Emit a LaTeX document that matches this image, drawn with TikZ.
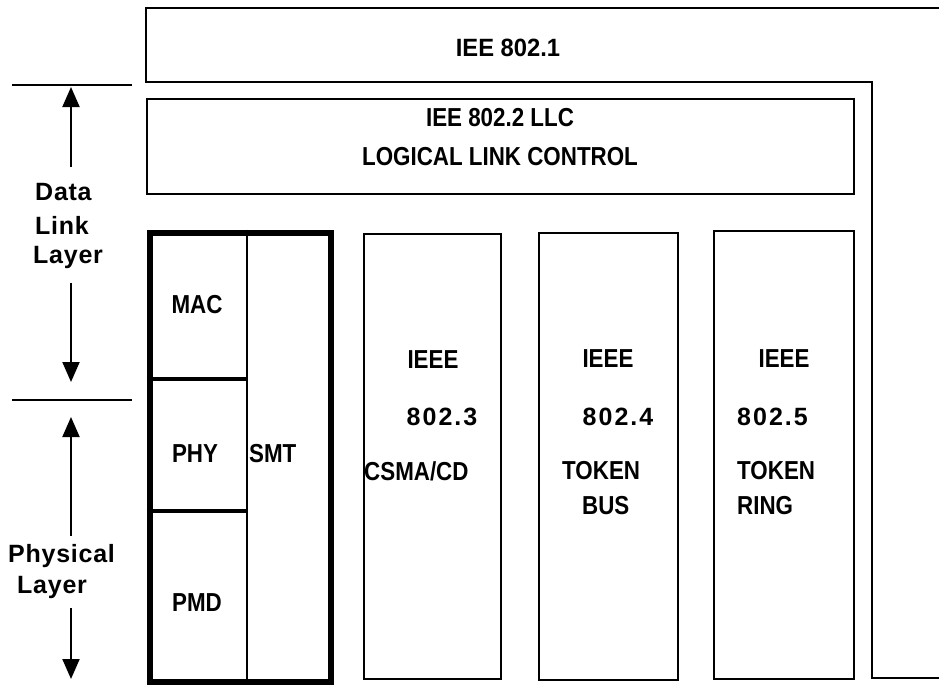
\documentclass[tikz,border=0pt]{standalone}
\usepackage{fontspec}
\setmainfont{Liberation Sans}
\newfontfamily\condfont{Liberation Sans Bold}[FakeStretch=0.86]
\newfontfamily\widefont{Liberation Sans Bold}[FakeStretch=0.95]
\newfontfamily\numfont{Liberation Sans Bold}[LetterSpace=8]
\newfontfamily\sidefont{Liberation Sans Bold}[LetterSpace=3]
\usetikzlibrary{arrows.meta}
\begin{document}
\begin{tikzpicture}[x=1pt,y=-1pt,
  thin box/.style={draw, line width=2pt, inner sep=0pt, anchor=north west},
  lbl/.style={font=\condfont\fontsize{26}{28}\selectfont, inner sep=0pt},
  num/.style={font=\numfont\fontsize{25}{27}\selectfont, inner sep=0pt},
  side/.style={font=\sidefont\fontsize{25}{27}\selectfont, inner sep=0pt, anchor=west},
  arr/.style={line width=2pt, -{Triangle[width=17pt,length=20pt]}},
  rule/.style={line width=2.5pt},
]
\useasboundingbox (0,0) rectangle (939,694);

% IEE 802.1 frame
\coordinate (f1) at (939,8);
\coordinate (f2) at (146,8);
\coordinate (f3) at (146,82);
\coordinate (f4) at (872,82);
\coordinate (f5) at (872,678);
\coordinate (f6) at (939,678);
\draw[line width=2pt, line join=miter] (f1) -- (f2) -- (f3) -- (f4) -- (f5) -- (f6);
\node[lbl, font=\widefont\fontsize{25}{27}\selectfont] (t8021) at (508,48) {IEE 802.1};

% LLC
\node[thin box, minimum width=707pt, minimum height=95pt] (llc) at (146,98) {};
\node[lbl] (llc1) at (500,118) {IEE 802.2 LLC};
\node[lbl] (llc2) at (500,157) {LOGICAL LINK CONTROL};

% FDDI thick box
\node[draw, line width=6.5pt, inner sep=0pt, anchor=north west,
      minimum width=181pt, minimum height=449pt] (fddi) at (146.5,229.5) {};
\coordinate (dvT) at (247,229.5);
\coordinate (dvB) at (247,678.5);
\draw[line width=2.5pt] (dvT) -- (dvB);
\coordinate (h1a) at (146.5,379);
\coordinate (h1b) at (247,379);
\coordinate (h2a) at (146.5,511);
\coordinate (h2b) at (247,511);
\draw[line width=3.5pt] (h1a) -- (h1b);
\draw[line width=3.5pt] (h2a) -- (h2b);
\node[lbl] (mac) at (197,305) {MAC};
\node[lbl] (phy) at (195,454) {PHY};
\node[lbl] (pmd) at (197,603) {PMD};
\node[lbl, anchor=west] (smt) at (249,454) {SMT};

% 802.3
\node[thin box, minimum width=137pt, minimum height=445pt] (b3) at (363,233) {};
\node[lbl] (i3) at (433,360) {IEEE};
\node[num] (n3) at (442,417) {802.3};
\node[lbl, anchor=west] (c3) at (364,471) {CSMA/CD};

% 802.4
\node[thin box, minimum width=139pt, minimum height=447pt] (b4) at (538,232) {};
\node[lbl] (i4) at (608,359) {IEEE};
\node[num] (n4) at (618,417) {802.4};
\node[lbl, anchor=west] (tk4) at (562,471) {TOKEN};
\node[lbl, anchor=west] (bus) at (582,506) {BUS};

% 802.5
\node[thin box, minimum width=140pt, minimum height=448pt] (b5) at (713,230) {};
\node[lbl] (i5) at (784,359) {IEEE};
\node[num, anchor=west] (n5) at (737,417) {802.5};
\node[lbl, anchor=west] (tk5) at (737,471) {TOKEN};
\node[lbl, anchor=west] (ring) at (737,506) {RING};

% left side
\coordinate (r1a) at (12,85);
\coordinate (r1b) at (132,85);
\coordinate (r2a) at (12,400);
\coordinate (r2b) at (132,400);
\draw[rule] (r1a) -- (r1b);
\draw[rule] (r2a) -- (r2b);

\node[side] (data) at (35,192) {Data};
\node[side] (link) at (35,225) {Link};
\node[side] (dlayer) at (33,257) {Layer};
\node[side] (phys) at (8,556) {Physical};
\node[side] (player) at (17,587) {Layer};

\coordinate (a1s) at (71,167);
\coordinate (a1e) at (71,87);
\coordinate (a2s) at (71,283);
\coordinate (a2e) at (71,382);
\coordinate (a3s) at (71,536);
\coordinate (a3e) at (71,417);
\coordinate (a4s) at (71,608);
\coordinate (a4e) at (71,679);
\draw[arr] (a1s) -- (a1e);
\draw[arr] (a2s) -- (a2e);
\draw[arr] (a3s) -- (a3e);
\draw[arr] (a4s) -- (a4e);
\end{tikzpicture}
\end{document}
